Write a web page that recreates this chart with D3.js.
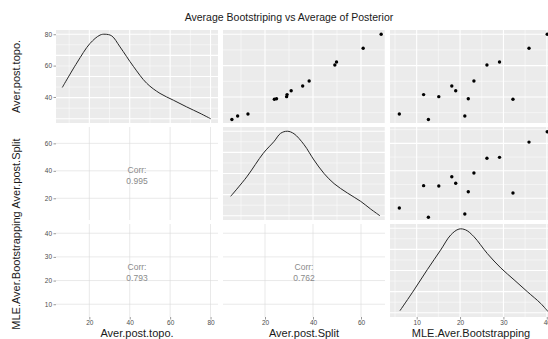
<!DOCTYPE html>
<html>
<head>
<meta charset="utf-8">
<script src="https://cdn.jsdelivr.net/npm/d3@7"></script>
<style>
  body { margin: 0; background: #fff; }
  svg { display: block; font-family: "Liberation Sans", Arial, sans-serif; }
</style>
</head>
<body>
<script>
const title = "Average Bootstriping vs Average of Posterior";
const vars = ["Aver.post.topo.", "Aver.post.Split", "MLE.Aver.Bootstrapping"];

// one row per tree
const topo  = [29.1, 41.5, 25.6, 40.2, 47.0, 44.0, 27.9, 38.9, 50.2, 60.4, 62.3, 38.5, 71.1, 80.0];
const split = [12.9, 29.2, 6.2, 29.0, 35.7, 30.9, 8.6, 24.8, 38.4, 49.1, 49.8, 23.9, 60.9, 68.4];
const mle   = [6.0, 11.6, 12.7, 15.1, 18.1, 19.0, 21.1, 21.9, 23.2, 26.2, 29.1, 32.2, 35.9, 40.1];

// lower panels: topo~split, topo~mle, split~mle
const corrs = [[1, 0, "0.995"], [2, 0, "0.793"], [2, 1, "0.762"]];

// diagonal density curves: [value, density relative to peak]
const densTopo = [[6.6, 0.37], [13.8, 0.66], [20.3, 0.89], [25.3, 0.99], [27.8, 1.0], [31.1, 0.98],
  [35.2, 0.85], [41.8, 0.62], [48.4, 0.42], [55.0, 0.30], [61.6, 0.22], [68.2, 0.14], [74.8, 0.065], [80.1, 0.0]];
const densSplit = [[5.7, 0.23], [12.4, 0.46], [19.3, 0.74], [23.8, 0.88], [26.5, 0.975], [29.3, 1.0],
  [32.1, 0.97], [36.3, 0.84], [40.4, 0.66], [44.6, 0.50], [48.8, 0.38], [54.3, 0.27], [59.9, 0.17], [64.0, 0.08], [67.9, 0.0]];
const densMle = [[6.15, 0.025], [9.4, 0.27], [12.45, 0.51], [15.5, 0.74], [17.85, 0.92], [19.75, 0.99],
  [21.3, 0.98], [23.2, 0.90], [26.3, 0.70], [29.4, 0.53], [32.45, 0.39], [35.5, 0.25], [38.6, 0.11], [40.3, 0.013]];

// axis limits as drawn (columns = x, rows = y)
const colLimits = [[3.5, 83.7], [2.5, 70.0], [3.85, 41.2]];
const rowLimits = [[23.4, 82.7], [4.2, 71.9], [4.6, 43.9]];
const majorTicks = [[20, 40, 60, 80], [20, 40, 60], [10, 20, 30, 40]];
const minorTicks = [[10, 30, 50, 70], [10, 30, 50, 70], [5, 15, 25, 35]];

const values = [topo, split, mle];
const dens = [densTopo, densSplit, densMle];

const width = 548, height = 339;
const padL = 56, padT = 30, pw = 162, ph = 93, gx = 5, gy = 4;

const svg = d3.select("body").append("svg")
  .attr("width", width)
  .attr("height", height);

const xs = colLimits.map((d, j) => d3.scaleLinear().domain(d)
  .range([padL + j * (pw + gx), padL + j * (pw + gx) + pw]));
const ys = rowLimits.map((d, i) => d3.scaleLinear().domain(d)
  .range([padT + i * (ph + gy) + ph, padT + i * (ph + gy)]));

const inside = (s, arr) => arr.filter(v => v >= s.domain()[0] && v <= s.domain()[1]);

svg.append("defs").selectAll("clipPath")
  .data(d3.range(9))
  .join("clipPath")
    .attr("id", k => "clip" + k)
  .append("rect")
    .attr("x", k => xs[k % 3].range()[0])
    .attr("y", k => ys[Math.floor(k / 3)].range()[1])
    .attr("width", pw)
    .attr("height", ph);

for (let i = 0; i < 3; i++) {
  for (let j = 0; j < 3; j++) {
    const x = xs[j], y = ys[i];
    const [x0, x1] = x.range(), [y1, y0] = y.range();
    const g = svg.append("g").attr("clip-path", `url(#clip${i * 3 + j})`);

    if (i > j) {
      // correlation panel
      g.selectAll(".vg").data(inside(x, majorTicks[j])).join("line")
        .attr("x1", d => x(d)).attr("x2", d => x(d)).attr("y1", y0).attr("y2", y1)
        .attr("stroke", "#dadada").attr("stroke-width", 0.6);
      g.selectAll(".hg").data(inside(y, majorTicks[i])).join("line")
        .attr("y1", d => y(d)).attr("y2", d => y(d)).attr("x1", x0).attr("x2", x1)
        .attr("stroke", "#dadada").attr("stroke-width", 0.6);
      const c = corrs.find(d => d[0] === i && d[1] === j);
      const cx = (x0 + x1) / 2, cy = (y0 + y1) / 2;
      svg.append("text").attr("x", cx).attr("y", cy - 3.5).attr("dy", "0.35em")
        .attr("text-anchor", "middle").attr("font-size", 8.5).attr("fill", "#8a8a8a").text("Corr:");
      svg.append("text").attr("x", cx).attr("y", cy + 7.5).attr("dy", "0.35em")
        .attr("text-anchor", "middle").attr("font-size", 8.5).attr("fill", "#8a8a8a").text(c[2]);
      continue;
    }

    g.append("rect").attr("x", x0).attr("y", y0).attr("width", pw).attr("height", ph).attr("fill", "#ebebeb");

    let yy = y;
    let yMinor = minorTicks[i], yMajor = majorTicks[i];
    if (i === j) {
      yy = d3.scaleLinear().domain([-0.05, 1.05]).range(y.range());
      yMajor = [0, 0.25, 0.5, 0.75, 1];
      yMinor = [0.125, 0.375, 0.625, 0.875];
    }

    g.selectAll(".hm").data(inside(yy, yMinor)).join("line")
      .attr("y1", d => yy(d)).attr("y2", d => yy(d)).attr("x1", x0).attr("x2", x1)
      .attr("stroke", "#fff").attr("stroke-width", 0.5);
    g.selectAll(".vm").data(inside(x, minorTicks[j])).join("line")
      .attr("x1", d => x(d)).attr("x2", d => x(d)).attr("y1", y0).attr("y2", y1)
      .attr("stroke", "#fff").attr("stroke-width", 0.5);
    g.selectAll(".hM").data(inside(yy, yMajor)).join("line")
      .attr("y1", d => yy(d)).attr("y2", d => yy(d)).attr("x1", x0).attr("x2", x1)
      .attr("stroke", "#fff").attr("stroke-width", 1.1);
    g.selectAll(".vM").data(inside(x, majorTicks[j])).join("line")
      .attr("x1", d => x(d)).attr("x2", d => x(d)).attr("y1", y0).attr("y2", y1)
      .attr("stroke", "#fff").attr("stroke-width", 1.1);

    if (i === j) {
      g.append("path")
        .datum(dens[j])
        .attr("fill", "none")
        .attr("stroke", "#262626")
        .attr("stroke-width", 1)
        .attr("d", d3.line().x(d => x(d[0])).y(d => yy(d[1])).curve(d3.curveCatmullRom));
    } else {
      g.selectAll("circle")
        .data(d3.range(values[j].length))
        .join("circle")
          .attr("cx", k => x(values[j][k]))
          .attr("cy", k => y(values[i][k]))
          .attr("r", 1.7)
          .attr("fill", "#000");
    }
  }
}

// y axes on the left
ys.forEach((y, i) => {
  const ax = svg.append("g")
    .attr("transform", `translate(${padL},0)`)
    .call(d3.axisLeft(y).tickValues(inside(y, majorTicks[i])).tickSize(2.5).tickPadding(1.5));
  ax.select(".domain").remove();
  ax.selectAll(".tick line").attr("stroke", "#333").attr("stroke-width", 0.5);
  ax.selectAll(".tick text").attr("fill", "#4d4d4d").attr("font-size", 6.5)
    .attr("font-family", "Liberation Sans, Arial, sans-serif");
  const [b, t] = y.range();
  svg.append("text")
    .attr("transform", `translate(16,${(b + t) / 2}) rotate(-90)`)
    .attr("text-anchor", "middle")
    .attr("dy", "0.35em")
    .attr("font-size", 11)
    .attr("fill", "#1a1a1a")
    .text(vars[i]);
});

// x axes at the bottom
const bottom = ys[2].range()[0];
xs.forEach((x, j) => {
  const ax = svg.append("g")
    .attr("transform", `translate(0,${bottom})`)
    .call(d3.axisBottom(x).tickValues(inside(x, majorTicks[j])).tickSize(2.5).tickPadding(1));
  ax.select(".domain").remove();
  ax.selectAll(".tick line").attr("stroke", "#333").attr("stroke-width", 0.5);
  ax.selectAll(".tick text").attr("fill", "#4d4d4d").attr("font-size", 6.5)
    .attr("font-family", "Liberation Sans, Arial, sans-serif");
  const [l, r] = x.range();
  svg.append("text")
    .attr("x", (l + r) / 2)
    .attr("y", bottom + 16)
    .attr("dy", "0.35em")
    .attr("text-anchor", "middle")
    .attr("font-size", 11)
    .attr("fill", "#1a1a1a")
    .text(vars[j]);
});

svg.append("text")
  .attr("x", 289)
  .attr("y", 17)
  .attr("dy", "0.35em")
  .attr("text-anchor", "middle")
  .attr("font-size", 10.5)
  .attr("fill", "#1a1a1a")
  .text(title);
</script>
</body>
</html>
